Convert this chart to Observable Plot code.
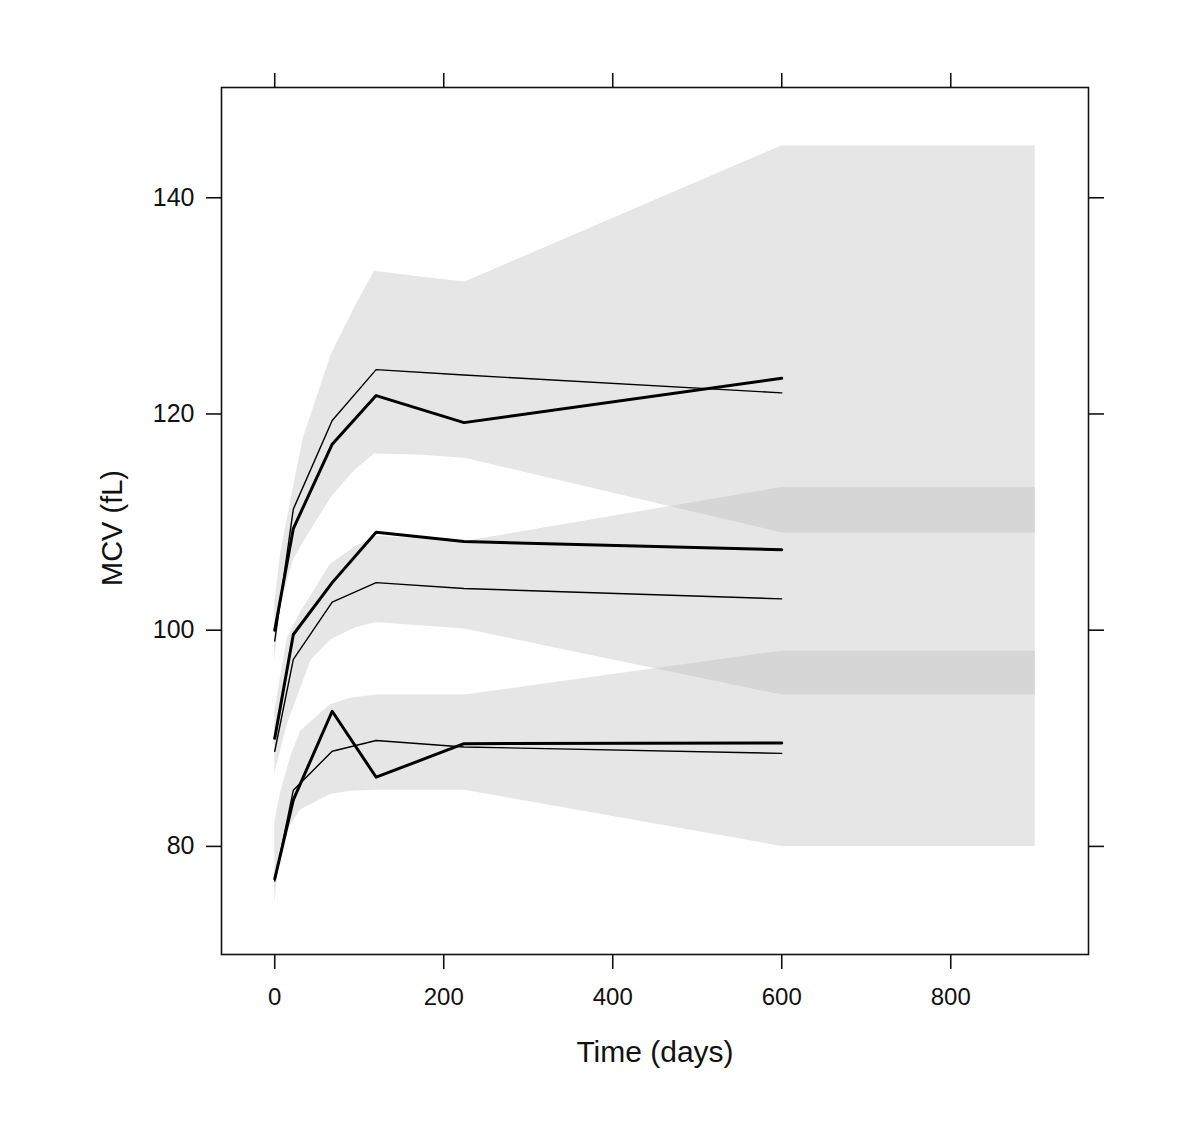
<!DOCTYPE html>
<html>
<head>
<meta charset="utf-8">
<script src="https://cdn.jsdelivr.net/npm/d3@7"></script>
<script src="https://cdn.jsdelivr.net/npm/@observablehq/plot@0.6"></script>
<style>
  html, body { margin: 0; padding: 0; background: #fff; }
  #chart svg { font-family: "Liberation Sans", Arial, sans-serif; color: #111; }
</style>
</head>
<body>
<div id="chart"></div>
<script>
// ---- Prediction bands (time in days, MCV in fL) ----
const upperT  = [0, 7, 22, 34, 67, 95, 118, 170, 225, 600, 900];
const upperLo = [97.2, 102.2, 106.5, 108.1, 112.3, 114.8, 116.3, 116.2, 115.9, 109.0, 109.0];
const upperHi = [102.5, 107.1, 113.2, 117.8, 125.5, 129.9, 133.2, 132.7, 132.2, 144.8, 144.8];

const midT  = [0, 15, 31, 43, 66, 95, 120, 225, 600, 900];
const midLo = [86.7, 91.3, 94.7, 97.2, 99.1, 100.2, 100.7, 100.1, 94.0, 94.0];
const midHi = [92.5, 99.3, 101.7, 103.2, 106.1, 107.7, 108.7, 108.2, 113.2, 113.2];

const lowT  = [0, 7, 19, 31, 66, 90, 120, 225, 600, 900];
const lowLo = [74.7, 80.0, 82.0, 83.4, 84.8, 85.1, 85.2, 85.2, 80.0, 80.0];
const lowHi = [82.2, 85.0, 88.3, 90.7, 93.1, 93.7, 94.0, 94.0, 98.06, 98.06];

// ---- Observed (thick) and predicted (thin) lines ----
const lineT    = [0, 22, 68, 120, 224, 600];
const obsHigh  = [100, 109.4, 117.2, 121.7, 119.2, 123.3];
const predHigh = [99.0, 111.2, 119.4, 124.1, 123.6, 121.95];
const obsMid   = [90, 99.6, 104.4, 109.05, 108.2, 107.45];
const predMid  = [88.8, 97.3, 102.6, 104.4, 103.85, 102.9];
const obsLow   = [77, 84.3, 92.5, 86.4, 89.5, 89.57];
const predLow  = [76.8, 85.2, 88.8, 89.8, 89.2, 88.6];

const xTicks = [0, 200, 400, 600, 800];
const yTicks = [80, 100, 120, 140];
const xLabel = "Time (days)";
const yLabel = "MCV (fL)";

// ---- Build tables ----
function bandRows(name, T, lo, hi) { return T.map((t, i) => ({band: name, t, lo: lo[i], hi: hi[i]})); }
const bands = [
  ...bandRows("upper", upperT, upperLo, upperHi),
  ...bandRows("middle", midT, midLo, midHi),
  ...bandRows("lower", lowT, lowLo, lowHi)
];
function lineRows(name, vals) { return lineT.map((t, i) => ({series: name, t, v: vals[i]})); }
const obsRows = [...lineRows("high", obsHigh), ...lineRows("mid", obsMid), ...lineRows("low", obsLow)];
const predRows = [...lineRows("high", predHigh), ...lineRows("mid", predMid), ...lineRows("low", predLow)];

const chart = Plot.plot({
  width: 1200,
  height: 1137,
  marginLeft: 221,
  marginRight: 112,
  marginTop: 87,
  marginBottom: 183,
  x: {domain: [-63, 963]},
  y: {domain: [70, 150.2]},
  marks: [
    Plot.areaY(bands, {x: "t", y1: "lo", y2: "hi", z: "band", fill: "#b9b9b9", fillOpacity: 0.36}),
    Plot.line(predRows, {x: "t", y: "v", z: "series", stroke: "#000", strokeWidth: 1.4}),
    Plot.line(obsRows, {x: "t", y: "v", z: "series", stroke: "#000", strokeWidth: 3}),
    Plot.frame({stroke: "#111", strokeWidth: 1.6}),
    Plot.axisX({anchor: "bottom", ticks: xTicks, tickSize: 15, tickPadding: 18, fontSize: 24, strokeWidth: 1.6, label: null}),
    Plot.axisX({anchor: "top", ticks: xTicks, tickSize: 15, tickFormat: () => "", strokeWidth: 1.6, label: null}),
    Plot.axisY({anchor: "left", ticks: yTicks, tickSize: 15, tickPadding: 12, fontSize: 25, strokeWidth: 1.6, label: null}),
    Plot.axisY({anchor: "right", ticks: yTicks, tickSize: 15, tickFormat: () => "", strokeWidth: 1.6, label: null}),
    Plot.text([xLabel], {frameAnchor: "bottom", lineAnchor: "middle", textAnchor: "middle", dy: 98, fontSize: 30, fill: "#111"}),
    Plot.text([yLabel], {frameAnchor: "left", lineAnchor: "middle", textAnchor: "middle", dx: -109, dy: 7, rotate: -90, fontSize: 29, fill: "#111"})
  ]
});
document.getElementById("chart").appendChild(chart);
</script>
</body>
</html>
